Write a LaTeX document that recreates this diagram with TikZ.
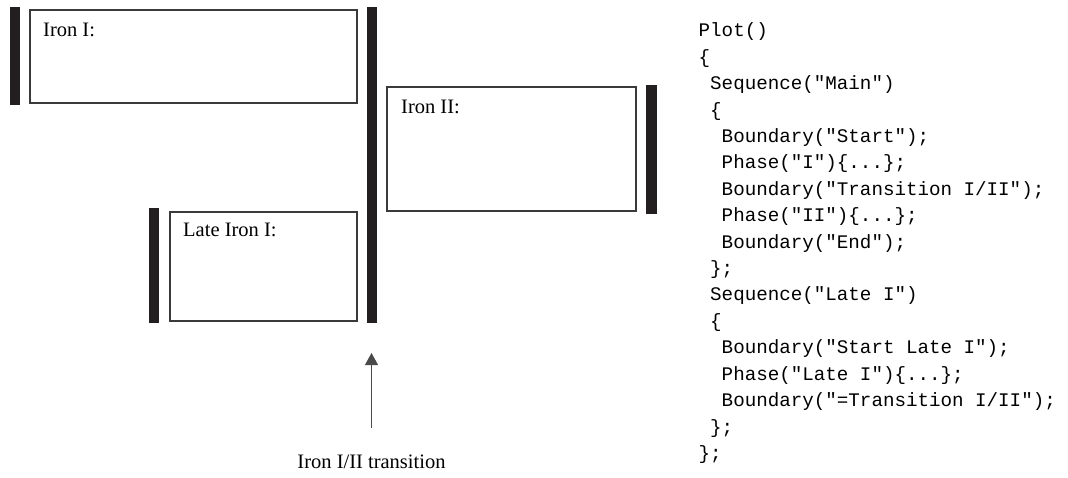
\documentclass[tikz,border=0pt]{standalone}
\usepackage{fontspec}
\setmainfont{Liberation Serif}
\newfontfamily\codefont{Liberation Mono}
\usetikzlibrary{arrows.meta}
\definecolor{barcol}{HTML}{231F20}
\definecolor{boxline}{HTML}{3A3A3A}
\definecolor{arrowcol}{HTML}{4A4A4A}
\tikzset{
  bar/.style={fill=barcol, draw=none, inner sep=0pt, outer sep=0pt, anchor=north west},
  period/.style={draw=boxline, line width=1.1pt, fill=white, inner sep=0pt, outer sep=0pt, anchor=north west},
  lbl/.style={inner sep=0pt, anchor=base west, font=\fontsize{20.5}{24}\selectfont},
  code/.style={inner sep=0pt, anchor=base west, font=\codefont\fontsize{19.2}{22}\selectfont},
  arrowline/.style={draw=arrowcol, line width=1pt, -{Triangle[width=13pt,length=12pt]}}
}
\newcommand\codeln[3]{\node[code] (c#1) at ({698.5+#2*11.52},{37+#1*26.4}) {#3};}
\begin{document}
\begin{tikzpicture}[x=1pt,y=-1pt]
\useasboundingbox (0,0) rectangle (1068,478);
% bars
\node[bar, minimum width=10pt, minimum height=98pt] (bar1) at (10,7) {};
\node[bar, minimum width=10pt, minimum height=316pt] (bar2) at (367,7) {};
\node[bar, minimum width=11pt, minimum height=129pt] (bar3) at (646,85) {};
\node[bar, minimum width=10pt, minimum height=115pt] (bar4) at (149,208) {};
% period boxes
\node[period, minimum width=327pt, minimum height=93pt] (ironI) at (30,10) {};
\node[period, minimum width=249pt, minimum height=124pt] (ironII) at (387,87) {};
\node[period, minimum width=187pt, minimum height=109pt] (lateI) at (170,212) {};
% labels
\node[lbl] (lIronI) at (43,37) {Iron I:};
\node[lbl] (lIronII) at (401,114) {Iron II:};
\node[lbl] (lLateI) at (183,237) {Late Iron I:};
\node[lbl, anchor=base] (trans) at (371.5,468) {Iron I/II transition};
\draw[arrowline, shorten <=26pt, shorten >=30pt] (trans.north) -- (trans.north |- bar2.south);
% code
\codeln{0}{0}{Plot()}
\codeln{1}{0}{\{}
\codeln{2}{1}{Sequence("Main")}
\codeln{3}{1}{\{}
\codeln{4}{2}{Boundary("Start");}
\codeln{5}{2}{Phase("I")\{...\};}
\codeln{6}{2}{Boundary("Transition I/II");}
\codeln{7}{2}{Phase("II")\{...\};}
\codeln{8}{2}{Boundary("End");}
\codeln{9}{1}{\};}
\codeln{10}{1}{Sequence("Late I")}
\codeln{11}{1}{\{}
\codeln{12}{2}{Boundary("Start Late I");}
\codeln{13}{2}{Phase("Late I")\{...\};}
\codeln{14}{2}{Boundary("=Transition I/II");}
\codeln{15}{1}{\};}
\codeln{16}{0}{\};}
\end{tikzpicture}
\end{document}
